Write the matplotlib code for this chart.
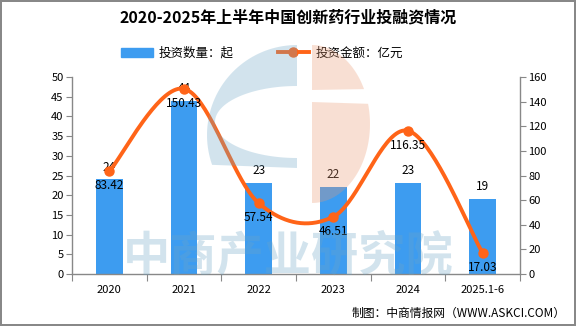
import numpy as np
import matplotlib
matplotlib.use("Agg")
import matplotlib.pyplot as plt
from matplotlib.lines import Line2D
from matplotlib.patches import Patch, Polygon, Rectangle

plt.rcParams['font.family'] = ['Noto Sans CJK SC', 'DejaVu Sans']

categories = ["2020", "2021", "2022", "2023", "2024", "2025.1-6"]
counts = [24, 44, 23, 22, 23, 19]
amounts = [83.42, 150.43, 57.54, 46.51, 116.35, 17.03]
count_label = "投资数量：起"
amount_label = "投资金额：亿元"
title = "2020-2025年上半年中国创新药行业投融资情况"
source = "制图：中商情报网（WWW.ASKCI.COM）"

bar_color = "#3d9cf0"
line_color = "#ff6418"

W, H = 576, 326
fig = plt.figure(figsize=(W/100, H/100), dpi=100)
fig.patch.set_edgecolor("#888888")
fig.patch.set_linewidth(1.5)

L, R, B, T = 72, 520, 274, 77
ax = fig.add_axes([L/W, 1-B/H, (R-L)/W, (B-T)/H])
ax2 = ax.twinx()

x = np.arange(len(categories))
ax.bar(x, counts, width=0.36, color=bar_color, zorder=2)
ax.set_xlim(-0.5, len(categories)-0.5)
ax.set_ylim(0, 50)
ax.set_yticks(np.arange(0, 51, 5))
ax2.set_ylim(0, 160)
ax2.set_yticks(np.arange(0, 161, 20))

# smooth curve (Catmull-Rom)
px = x.astype(float)
py = np.array(amounts, dtype=float)
sx, sy = [], []
n = len(px)
for i in range(n-1):
    p0 = np.array([px[max(i-1, 0)], py[max(i-1, 0)]])
    p1 = np.array([px[i], py[i]])
    p2 = np.array([px[i+1], py[i+1]])
    p3 = np.array([px[min(i+2, n-1)], py[min(i+2, n-1)]])
    t = np.linspace(0, 1, 40)[:, None]
    pts = 0.5*((2*p1) + (-p0+p2)*t + (2*p0-5*p1+4*p2-p3)*t**2 + (-p0+3*p1-3*p2+p3)*t**3)
    sx.extend(pts[:, 0]); sy.extend(pts[:, 1])
ax2.plot(sx, sy, color=line_color, lw=2.8, zorder=3, solid_capstyle='round')
ax2.plot(px, py, 'o', color=line_color, ms=6.5, zorder=4)

for xi, c in zip(x, counts):
    ax.text(xi, c + 1.5, str(c), ha='center', va='bottom', fontsize=8.5, color='black', zorder=6)
for xi, a in zip(x, amounts):
    ax2.text(xi, a - 6.5, f"{a:.2f}", ha='center', va='top', fontsize=8.5, color='black', zorder=6)

for a_ in (ax, ax2):
    for s in a_.spines.values():
        s.set_visible(False)
ax.spines['left'].set_visible(True)
ax.spines['bottom'].set_visible(True)
ax2.spines['right'].set_visible(True)
for s in (ax.spines['left'], ax.spines['bottom'], ax2.spines['right']):
    s.set_color('#888888')
    s.set_linewidth(1)

ax.set_xticks(np.arange(-0.5, len(categories), 1.0))
ax.set_xticklabels([])
ax.set_xticks(x, minor=True)
ax.set_xticklabels(categories, minor=True)
ax.tick_params(axis='x', which='major', length=5, color='#888888')
ax.tick_params(axis='x', which='minor', length=0, labelsize=8, pad=8)
ax.tick_params(axis='y', length=4, color='#888888', labelsize=8, pad=2)
ax2.tick_params(axis='y', length=4, color='#888888', labelsize=8, pad=2)

# watermark (pixel coordinates)
ax_w = fig.add_axes([0, 0, 1, 1], zorder=10)
ax_w.set_xlim(0, W); ax_w.set_ylim(H, 0); ax_w.axis('off')
wb, wo, wa = '#6ca5c6', '#eb9870', 0.3
# blue "C"
th = np.linspace(np.pi/2, 3*np.pi/2, 80)
cx, cy, rx, ry = 297, 135, 90, 90
outer = np.column_stack([cx + rx*np.cos(th), cy - ry*np.sin(th)])
outer = outer[outer[:, 1] <= 168]
outer = np.vstack([outer, [[297, 168]]])
inner_th = np.linspace(3*np.pi/2 - 0.0, np.pi/2, 80)
icx, icy, irx, iry = 297, 122, 82, 36
inner = np.column_stack([icx + irx*np.cos(inner_th), icy - iry*np.sin(inner_th)])
poly = np.vstack([outer, [[297, 158]], inner[inner[:, 1] <= 158][::1]])
ax_w.add_patch(Polygon(np.vstack([outer, inner[::-1][::-1]]), closed=True,
                       facecolor=wb, alpha=wa, lw=0))
# orange half disc with white band
th2 = np.linspace(-np.pi/2, np.pi/2, 80)
ocx, ocy, orx, ory = 312, 124, 58, 79
half = np.column_stack([ocx + orx*np.cos(th2), ocy - ory*np.sin(th2)])
top = half[half[:, 1] <= 90]
bot = half[half[:, 1] >= 102]
ax_w.add_patch(Polygon(np.vstack([top, [[312, 90]]]), closed=True, facecolor=wo, alpha=wa, lw=0))
ax_w.add_patch(Polygon(np.vstack([[[312, 102]], bot]), closed=True, facecolor=wo, alpha=wa, lw=0))
ax_w.text(288, 256, "中商产业研究院", ha='center', va='center', fontsize=34,
          color=wb, alpha=wa, fontweight='bold')

fig.text(0.5, 1-17/H, title, ha='center', va='center', fontsize=11.5, fontweight='bold')
handles = [Patch(facecolor=bar_color, edgecolor=bar_color),
           Line2D([0], [0], color=line_color, lw=2.8, marker='o', ms=6.5)]
fig.legend(handles, [count_label, amount_label], loc='center', bbox_to_anchor=(262/W, 1-53/H),
           ncol=2, frameon=False, fontsize=9, handlelength=2.5, columnspacing=3.5, handletextpad=0.5)
fig.text(1-10/W, 1-313/H, source, ha='right', va='center', fontsize=8.5)

fig.savefig("out.png", dpi=100)
